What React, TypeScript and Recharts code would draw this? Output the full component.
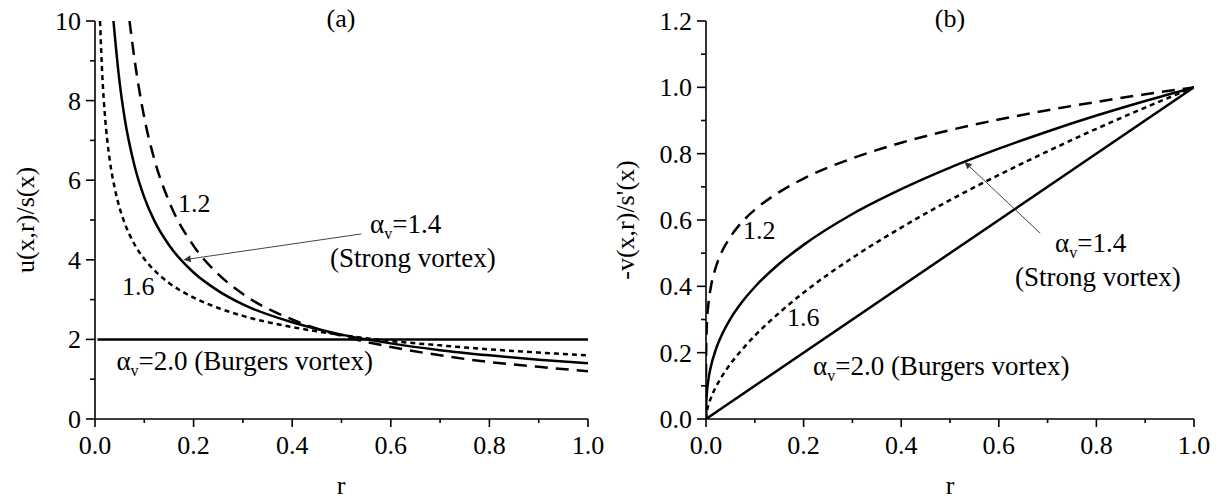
import React from 'react';
import { LineChart, Line, XAxis, YAxis, ReferenceLine } from 'recharts';

// ---------- Panel (a): u(x,r)/s(x) ----------
const rA12 = [0.07, 0.08, 0.1, 0.12, 0.15, 0.2, 0.25, 0.3, 0.4, 0.5, 0.6, 0.7, 0.8, 0.9, 1.0];
const uA12 = [10, 9.05, 7.57, 6.54, 5.47, 4.35, 3.64, 3.14, 2.5, 2.09, 1.81, 1.6, 1.43, 1.31, 1.2];

const rA14 = [0.0375, 0.04, 0.05, 0.06, 0.08, 0.1, 0.12, 0.15, 0.2, 0.25, 0.3, 0.4, 0.5, 0.6, 0.7, 0.8, 0.9, 1.0];
const uA14 = [10, 9.66, 8.45, 7.57, 6.37, 5.57, 4.99, 4.37, 3.68, 3.22, 2.88, 2.43, 2.12, 1.9, 1.73, 1.6, 1.49, 1.4];

const rA16 = [0.0102, 0.015, 0.02, 0.03, 0.04, 0.05, 0.06, 0.08, 0.1, 0.12, 0.15, 0.2, 0.25, 0.3, 0.4, 0.5, 0.6, 0.7, 0.8, 0.9, 1.0];
const uA16 = [10, 8.59, 7.65, 6.5, 5.8, 5.3, 4.93, 4.39, 4.02, 3.74, 3.42, 3.05, 2.79, 2.59, 2.31, 2.11, 1.96, 1.85, 1.75, 1.67, 1.6];

const rA20 = [0.005, 1.0];
const uA20 = [2, 2];

// ---------- Panel (b): -v(x,r)/s'(x) ----------
const rB12 = [0, 0.0001, 0.0005, 0.002, 0.005, 0.01, 0.02, 0.03, 0.05, 0.075, 0.1, 0.15, 0.2, 0.3, 0.4, 0.5, 0.6, 0.7, 0.8, 0.9, 1.0];
const vB12 = [0, 0.158, 0.218, 0.289, 0.347, 0.398, 0.457, 0.496, 0.549, 0.596, 0.631, 0.684, 0.725, 0.786, 0.833, 0.871, 0.903, 0.931, 0.956, 0.979, 1.0];

const rB14 = [0, 0.0005, 0.002, 0.005, 0.01, 0.02, 0.03, 0.05, 0.075, 0.1, 0.15, 0.2, 0.3, 0.4, 0.5, 0.6, 0.7, 0.8, 0.9, 1.0];
const vB14 = [0, 0.048, 0.083, 0.12, 0.158, 0.209, 0.246, 0.302, 0.355, 0.398, 0.468, 0.525, 0.618, 0.693, 0.758, 0.815, 0.867, 0.915, 0.959, 1.0];

const rB16 = [0, 0.001, 0.005, 0.01, 0.02, 0.03, 0.05, 0.075, 0.1, 0.15, 0.2, 0.3, 0.4, 0.5, 0.6, 0.7, 0.8, 0.9, 1.0];
const vB16 = [0, 0.016, 0.042, 0.063, 0.096, 0.122, 0.166, 0.211, 0.251, 0.32, 0.381, 0.486, 0.577, 0.66, 0.736, 0.807, 0.875, 0.939, 1.0];

const rB20 = [0, 1.0];
const vB20 = [0, 1.0];

// ---------- ticks ----------
const xTicks = [0, 0.1, 0.2, 0.3, 0.4, 0.5, 0.6, 0.7, 0.8, 0.9, 1.0];
const yTicksA = [0, 1, 2, 3, 4, 5, 6, 7, 8, 9, 10];
const yTicksB = [0, 0.1, 0.2, 0.3, 0.4, 0.5, 0.6, 0.7, 0.8, 0.9, 1.0, 1.1, 1.2];

// arrows (data coordinates)
const arrowA = [{ x: 0.54, y: 4.65 }, { x: 0.18, y: 4.0 }];
const arrowB = [{ x: 0.685, y: 0.56 }, { x: 0.53, y: 0.775 }];

const zip = (xs: number[], ys: number[]) => xs.map((r, i) => ({ r, v: ys[i] }));

const FONT = 'Liberation Serif, Times New Roman, serif';
const TICK_FS = 26;

const XTick = (props: any) => {
  const { x, y, payload } = props;
  const v = payload.value as number;
  const major = Math.round(v * 10) % 2 === 0;
  return (
    <g>
      <line x1={x} y1={y} x2={x} y2={y + (major ? 8 : 4)} stroke="#000" strokeWidth={1.6} />
      {major && (
        <text x={x} y={y + 35} textAnchor="middle" fontSize={TICK_FS} fontFamily={FONT} fill="#000">
          {v.toFixed(1)}
        </text>
      )}
    </g>
  );
};

const makeYTick = (step: number, fmt: (v: number) => string) => (props: any) => {
  const { x, y, payload } = props;
  const v = payload.value as number;
  const major = Math.round(v / step) % 2 === 0;
  return (
    <g>
      <line x1={x} y1={y} x2={x - (major ? 9 : 5)} y2={y} stroke="#000" strokeWidth={1.6} />
      {major && (
        <text x={x - 14} y={y + 9} textAnchor="end" fontSize={TICK_FS} fontFamily={FONT} fill="#000">
          {fmt(v)}
        </text>
      )}
    </g>
  );
};

const YTickA = makeYTick(1, (v) => String(v));
const YTickB = makeYTick(0.1, (v) => v.toFixed(1));

const arrowShape = (props: any) => (
  <line
    x1={props.x1}
    y1={props.y1}
    x2={props.x2}
    y2={props.y2}
    stroke="#444"
    strokeWidth={1}
    markerEnd="url(#arrowHead)"
  />
);

const H = 502;
const YW = 70;
const XH = 60;

export default function App() {
  const axisLine = { stroke: '#000', strokeWidth: 1.6 };
  const sw = 2.5;
  return (
    <div style={{ position: 'absolute', left: 0, top: 0, width: 1223, height: H, background: '#fff', fontFamily: FONT }}>
      <div style={{ position: 'absolute', left: 0, top: 0 }}>
        <LineChart width={630} height={H} margin={{ left: 95 - YW, top: 21, right: 42, bottom: 83 - XH }}>
          <XAxis
            type="number"
            dataKey="r"
            domain={[0, 1]}
            allowDataOverflow
            ticks={xTicks}
            interval={0}
            height={XH}
            tickSize={0}
            tickMargin={0}
            tickLine={false}
            axisLine={axisLine}
            tick={<XTick />}
          />
          <YAxis
            type="number"
            domain={[0, 10]}
            allowDataOverflow
            ticks={yTicksA}
            interval={0}
            width={YW}
            tickSize={0}
            tickMargin={0}
            tickLine={false}
            axisLine={axisLine}
            tick={<YTickA />}
          />
          <Line data={zip(rA20, uA20)} dataKey="v" stroke="#000" strokeWidth={sw} dot={false} isAnimationActive={false} type="linear" />
          <Line data={zip(rA16, uA16)} dataKey="v" stroke="#000" strokeWidth={sw} strokeDasharray="5 4" dot={false} isAnimationActive={false} type="monotone" />
          <Line data={zip(rA14, uA14)} dataKey="v" stroke="#000" strokeWidth={sw} dot={false} isAnimationActive={false} type="monotone" />
          <Line data={zip(rA12, uA12)} dataKey="v" stroke="#000" strokeWidth={sw} strokeDasharray="13 8" dot={false} isAnimationActive={false} type="monotone" />
          <ReferenceLine segment={arrowA} shape={arrowShape} />
        </LineChart>
      </div>
      <div style={{ position: 'absolute', left: 600, top: 0 }}>
        <LineChart width={623} height={H} margin={{ left: 106 - YW, top: 21, right: 29, bottom: 83 - XH }}>
          <XAxis
            type="number"
            dataKey="r"
            domain={[0, 1]}
            allowDataOverflow
            ticks={xTicks}
            interval={0}
            height={XH}
            tickSize={0}
            tickMargin={0}
            tickLine={false}
            axisLine={axisLine}
            tick={<XTick />}
          />
          <YAxis
            type="number"
            domain={[0, 1.2]}
            allowDataOverflow
            ticks={yTicksB}
            interval={0}
            width={YW}
            tickSize={0}
            tickMargin={0}
            tickLine={false}
            axisLine={axisLine}
            tick={<YTickB />}
          />
          <Line data={zip(rB20, vB20)} dataKey="v" stroke="#000" strokeWidth={sw} dot={false} isAnimationActive={false} type="linear" />
          <Line data={zip(rB16, vB16)} dataKey="v" stroke="#000" strokeWidth={sw} strokeDasharray="5 4" dot={false} isAnimationActive={false} type="monotone" />
          <Line data={zip(rB14, vB14)} dataKey="v" stroke="#000" strokeWidth={sw} dot={false} isAnimationActive={false} type="monotone" />
          <Line data={zip(rB12, vB12)} dataKey="v" stroke="#000" strokeWidth={sw} strokeDasharray="13 8" dot={false} isAnimationActive={false} type="monotone" />
          <ReferenceLine segment={arrowB} shape={arrowShape} />
        </LineChart>
      </div>
      <svg
        width={1223}
        height={H}
        style={{ position: 'absolute', left: 0, top: 0, pointerEvents: 'none' }}
        fontFamily={FONT}
        fill="#000"
      >
        <defs>
          <marker id="arrowHead" viewBox="0 0 10 10" refX="10" refY="5" markerWidth="10" markerHeight="7" orient="auto" markerUnits="userSpaceOnUse">
            <path d="M0,0 L10,5 L0,10 z" fill="#333" />
          </marker>
        </defs>
        {/* titles */}
        <text x={341} y={27} textAnchor="middle" fontSize={26}>(a)</text>
        <text x={950} y={27} textAnchor="middle" fontSize={26}>(b)</text>
        {/* x titles */}
        <text x={341} y={494} textAnchor="middle" fontSize={26}>r</text>
        <text x={950} y={494} textAnchor="middle" fontSize={26}>r</text>
        {/* y titles */}
        <text transform="translate(34,220) rotate(-90)" textAnchor="middle" fontSize={26}>u(x,r)/s(x)</text>
        <text transform="translate(634,220) rotate(-90)" textAnchor="middle" fontSize={26}>-v(x,r)/s'(x)</text>
        {/* panel (a) annotations */}
        <text x={178} y={212} fontSize={26}>1.2</text>
        <text x={122} y={295} fontSize={26}>1.6</text>
        <text x={370} y={233} fontSize={27}>
          α<tspan fontSize={16} dy={6}>v</tspan><tspan dy={-6}>=1.4</tspan>
        </text>
        <text x={330} y={267} fontSize={27}>(Strong vortex)</text>
        <text x={373} y={370} textAnchor="end" fontSize={27}>
          α<tspan fontSize={16} dy={6}>v</tspan><tspan dy={-6}>=2.0 (Burgers vortex)</tspan>
        </text>
        {/* panel (b) annotations */}
        <text x={743} y={239} fontSize={26}>1.2</text>
        <text x={787} y={326} fontSize={26}>1.6</text>
        <text x={1055} y={252} fontSize={27}>
          α<tspan fontSize={16} dy={6}>v</tspan><tspan dy={-6}>=1.4</tspan>
        </text>
        <text x={1015} y={286} fontSize={27}>(Strong vortex)</text>
        <text x={813} y={375} fontSize={27}>
          α<tspan fontSize={16} dy={6}>v</tspan><tspan dy={-6}>=2.0 (Burgers vortex)</tspan>
        </text>
      </svg>
    </div>
  );
}
